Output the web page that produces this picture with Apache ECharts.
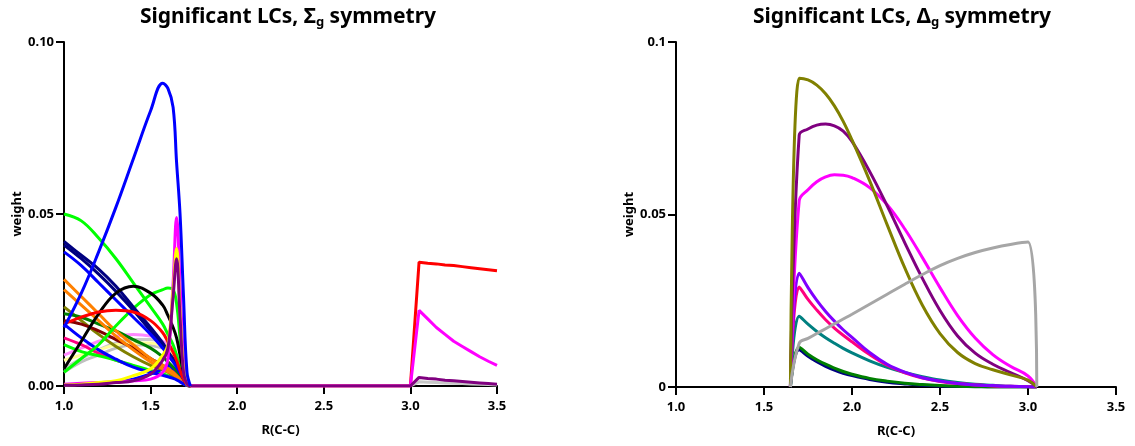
<!DOCTYPE html>
<html>
<head>
<meta charset="utf-8">
<title>Significant LCs</title>
<script src="https://cdn.jsdelivr.net/npm/echarts@6/dist/echarts.min.js"></script>
</head>
<body style="margin:0">
<div id="main" style="width:1135px;height:446px"></div>
<script>
// ---- left panel (Sigma_g) ----
var xsLeft = [1.0, 1.1, 1.2, 1.3, 1.4, 1.5, 1.57, 1.6, 1.63, 1.65, 1.67, 1.69, 1.71, 1.73];
var xsTail = [1.73, 3.0, 3.05, 3.1, 3.15, 3.2, 3.25, 3.3, 3.35, 3.4, 3.45, 3.5];

var blueBig    = [0.017, 0.027, 0.039, 0.052, 0.066, 0.080, 0.088, 0.0865, 0.081, 0.065, 0.050, 0.026, 0.004, 0];
var lime1      = [0.050, 0.048, 0.043, 0.037, 0.030, 0.023, 0.018, 0.015, 0.012, 0.009, 0.0055, 0.0025, 0.0005, 0];
var lime2      = [0.004, 0.008, 0.012, 0.0175, 0.0225, 0.0265, 0.028, 0.0285, 0.028, 0.024, 0.014, 0.004, 0.0003, 0];
var lime3      = [0.012, 0.010, 0.0088, 0.0075, 0.006, 0.0045, 0.0036, 0.003, 0.0025, 0.002, 0.0015, 0.001, 0.0003, 0];
var navy1      = [0.042, 0.038, 0.034, 0.029, 0.023, 0.017, 0.0125, 0.010, 0.008, 0.0065, 0.0045, 0.0025, 0.0008, 0];
var navy2      = [0.041, 0.037, 0.0325, 0.0275, 0.022, 0.016, 0.012, 0.0095, 0.0075, 0.006, 0.004, 0.002, 0.0005, 0];
var blue2      = [0.039, 0.035, 0.030, 0.025, 0.020, 0.015, 0.011, 0.009, 0.007, 0.0055, 0.0038, 0.002, 0.0005, 0];
var blue3      = [0.018, 0.014, 0.0105, 0.0078, 0.0055, 0.004, 0.0031, 0.0027, 0.0022, 0.0018, 0.0012, 0.0006, 0.0001, 0];
var blue4      = [0.0003, 0.0005, 0.0008, 0.0012, 0.002, 0.0035, 0.005, 0.006, 0.005, 0.004, 0.0025, 0.001, 0.0002, 0];
var orange1    = [0.031, 0.026, 0.021, 0.016, 0.012, 0.008, 0.006, 0.005, 0.004, 0.003, 0.002, 0.001, 0.0003, 0];
var orange2    = [0.028, 0.0235, 0.019, 0.0145, 0.0105, 0.007, 0.005, 0.0042, 0.0034, 0.0026, 0.0017, 0.0008, 0.0002, 0];
var olive      = [0.023, 0.019, 0.015, 0.0115, 0.0085, 0.006, 0.0047, 0.004, 0.003, 0.0025, 0.0015, 0.0008, 0.0002, 0];
var darkGreen  = [0.021, 0.020, 0.018, 0.016, 0.0135, 0.011, 0.0085, 0.007, 0.0055, 0.0045, 0.003, 0.0015, 0.0003, 0];
var maroon     = [0.019, 0.018, 0.016, 0.0135, 0.011, 0.008, 0.006, 0.005, 0.004, 0.003, 0.002, 0.001, 0.0002, 0];
var red        = [0.018, 0.020, 0.0215, 0.022, 0.0215, 0.019, 0.0155, 0.0128, 0.0098, 0.0075, 0.0045, 0.002, 0.0004, 0];
var black      = [0.005, 0.013, 0.021, 0.027, 0.029, 0.027, 0.0235, 0.0205, 0.017, 0.014, 0.009, 0.004, 0.0008, 0];
var magenta    = [0.0005, 0.0008, 0.001, 0.0012, 0.0015, 0.002, 0.004, 0.008, 0.030, 0.049, 0.030, 0.008, 0.001, 0];
var yellow     = [0.0003, 0.0005, 0.001, 0.0015, 0.003, 0.005, 0.009, 0.012, 0.028, 0.040, 0.022, 0.005, 0.0005, 0];
var purple     = [0.0002, 0.0003, 0.0005, 0.001, 0.0015, 0.0035, 0.0075, 0.011, 0.026, 0.037, 0.020, 0.004, 0.0005, 0];
var pink       = [0.009, 0.011, 0.013, 0.0145, 0.015, 0.0145, 0.013, 0.012, 0.0105, 0.009, 0.006, 0.003, 0.0006, 0];
var lightYel   = [0.0075, 0.009, 0.0105, 0.012, 0.0125, 0.0125, 0.0115, 0.0105, 0.009, 0.0075, 0.005, 0.0025, 0.0005, 0];
var silver1    = [0.005, 0.008, 0.0105, 0.0125, 0.0135, 0.0135, 0.0125, 0.0115, 0.010, 0.0085, 0.0055, 0.0025, 0.0005, 0];
var silver2    = [0.004, 0.007, 0.009, 0.011, 0.012, 0.0118, 0.011, 0.010, 0.0088, 0.0075, 0.005, 0.0022, 0.0004, 0];
var deepPink   = [0.014, 0.012, 0.0095, 0.0075, 0.0058, 0.0042, 0.0033, 0.0028, 0.0024, 0.002, 0.0015, 0.0008, 0.0002, 0];

var redTail     = [0, 0, 0.036, 0.0357, 0.0355, 0.0352, 0.035, 0.0347, 0.0344, 0.0341, 0.0338, 0.0335];
var magentaTail = [0, 0, 0.022, 0.0195, 0.017, 0.015, 0.013, 0.0115, 0.010, 0.0085, 0.0072, 0.006];
var purpleTail  = [0, 0, 0.0025, 0.0022, 0.002, 0.0017, 0.0015, 0.0013, 0.0011, 0.0009, 0.0007, 0.0005];
var silverTail  = [0, 0, 0.0012, 0.0011, 0.001, 0.0009, 0.0008, 0.0007, 0.0006, 0.0005, 0.0004, 0.0003];

// ---- right panel (Delta_g) ----
var xsRight = [1.65, 1.7, 1.75, 1.8, 1.85, 1.9, 1.95, 2.0, 2.1, 2.2, 2.3, 2.4, 2.5, 2.6, 2.7, 2.8, 2.9, 3.0, 3.05];

var rOlive    = [0, 0.0895, 0.0890, 0.0875, 0.0850, 0.0815, 0.0770, 0.0716, 0.0598, 0.0470, 0.0345, 0.0237, 0.0155, 0.0100, 0.0068, 0.0050, 0.0035, 0.0020, 0];
var rPurple   = [0, 0.0730, 0.0748, 0.0759, 0.0762, 0.0757, 0.0742, 0.0712, 0.0625, 0.0525, 0.0418, 0.0315, 0.0222, 0.0148, 0.0098, 0.0066, 0.0042, 0.0018, 0];
var rMagenta  = [0, 0.0540, 0.0572, 0.0595, 0.0609, 0.0615, 0.0614, 0.0607, 0.0578, 0.0528, 0.0458, 0.0375, 0.0288, 0.0207, 0.0142, 0.0094, 0.0060, 0.0032, 0];
var rGray     = [0, 0.0127, 0.0141, 0.0155, 0.0169, 0.0183, 0.0197, 0.0211, 0.0240, 0.0269, 0.0298, 0.0326, 0.0352, 0.0373, 0.0390, 0.0403, 0.0413, 0.0420, 0];
var rViolet   = [0, 0.0330, 0.0288, 0.0251, 0.0219, 0.0191, 0.0166, 0.0144, 0.0100, 0.0066, 0.0043, 0.0027, 0.0017, 0.0010, 0.0006, 0.0004, 0.0002, 0.0001, 0];
var rDeepPink = [0, 0.0290, 0.0254, 0.0223, 0.0195, 0.0171, 0.0150, 0.0131, 0.0094, 0.0063, 0.0041, 0.0026, 0.0016, 0.0010, 0.0006, 0.0003, 0.0002, 0.0001, 0];
var rTeal     = [0, 0.0205, 0.0182, 0.0161, 0.0143, 0.0127, 0.0112, 0.0099, 0.0076, 0.0057, 0.0042, 0.0030, 0.0020, 0.0013, 0.0008, 0.0005, 0.0002, 0.0001, 0];
var rGreen    = [0, 0.0115, 0.0095, 0.0079, 0.0066, 0.0055, 0.0045, 0.0037, 0.0025, 0.0017, 0.0011, 0.0007, 0.0004, 0.0002, 0.0001, 0, 0, 0, 0];
var rNavy     = [0, 0.0108, 0.0089, 0.0073, 0.0060, 0.0049, 0.0040, 0.0033, 0.0022, 0.0014, 0.0009, 0.0005, 0.0003, 0.0002, 0.0001, 0, 0, 0, 0];

var xTicks = ['1.0', '1.5', '2.0', '2.5', '3.0', '3.5'];

function pts(xs, ys) {
    return xs.map(function (x, i) { return [x, ys[i]]; });
}

function line(idx, color, data, smooth) {
    return {
        type: 'line', xAxisIndex: idx, yAxisIndex: idx, data: data,
        symbol: 'none', smooth: smooth, silent: true,
        lineStyle: { color: color, width: 3 }, itemStyle: { color: color }
    };
}

var leftList = [
    [silver2, '#c0c0c0', null], [silver1, '#c8c8c8', silverTail], [lightYel, '#ffff99', null],
    [pink, '#ff88ff', null], [deepPink, '#ff0080', null], [lime3, '#00ff00', null],
    [blue4, '#0000ff', null], [olive, '#808000', null], [darkGreen, '#008000', null],
    [maroon, '#800000', null], [orange2, '#ff8000', null], [orange1, '#ff8000', null],
    [blue3, '#0000ff', null], [lime2, '#00ff00', null], [lime1, '#00ff00', null],
    [navy2, '#000080', null], [navy1, '#000080', null], [blue2, '#0000ff', null],
    [black, '#000000', null], [red, '#ff0000', redTail], [magenta, '#ff00ff', magentaTail],
    [yellow, '#ffff00', null], [purple, '#800080', purpleTail], [blueBig, '#0000ff', null]
];
var rightList = [
    [rNavy, '#000080'], [rGreen, '#008000'], [rTeal, '#008080'], [rDeepPink, '#ff0080'],
    [rViolet, '#8000ff'], [rMagenta, '#ff00ff'], [rPurple, '#800080'], [rOlive, '#808000'],
    [rGray, '#a6a6a6']
];

var series = [];
leftList.forEach(function (s) {
    series.push(line(0, s[1], pts(xsLeft, s[0]), 0.4));
    // the far segment (R >= 3.0) is drawn as straight pieces
    if (s[2]) series.push(line(0, s[1], pts(xsTail, s[2]), false));
});
rightList.forEach(function (s) {
    series.push(line(1, s[1], pts(xsRight, s[0]), 0.4));
});

var font = 'Noto Sans';
var axisLine = { lineStyle: { color: '#000', width: 2 } };
var axisTick = { length: 8, lineStyle: { color: '#000', width: 2 } };
var lbl = { color: '#000', fontWeight: 'bold', fontSize: 13, fontFamily: font };
var nameStyle = { color: '#000', fontWeight: 'bold', fontSize: 13, fontFamily: font };

function xAxis(idx) {
    return {
        type: 'value', gridIndex: idx, min: 1, max: 3.5, interval: 0.5,
        name: 'R(C-C)', nameLocation: 'middle', nameGap: 38, nameTextStyle: nameStyle,
        axisLine: axisLine, axisTick: axisTick, splitLine: { show: false },
        axisLabel: Object.assign({ margin: 14, formatter: function (v) { return xTicks[Math.round((v - 1) / 0.5)]; } }, lbl)
    };
}
function yAxis(idx, fmt) {
    return {
        type: 'value', gridIndex: idx, min: 0, max: 0.1, interval: 0.05,
        name: 'weight', nameLocation: 'middle', nameGap: 17, nameTextStyle: nameStyle,
        axisLine: axisLine, axisTick: axisTick, splitLine: { show: false },
        axisLabel: Object.assign({ margin: 10, formatter: fmt }, lbl)
    };
}

function title(txt, sym, cx) {
    return {
        text: '{a|' + txt + sym + '}{b|g}{a| symmetry}', left: cx, top: 0, textAlign: 'center',
        textStyle: {
            rich: {
                a: { fontSize: 21, fontWeight: 'bold', fontFamily: font, color: '#000' },
                b: { fontSize: 13, fontWeight: 'bold', fontFamily: font, color: '#000', padding: [11, 0, 0, 0] }
            }
        }
    };
}

var myChart = echarts.init(document.getElementById('main'));
var option = {
    animation: false,
    backgroundColor: '#fff',
    title: [title('Significant LCs, ', 'Σ', 283), title('Significant LCs, ', 'Δ', 897)],
    grid: [
        { left: 64, right: 638, top: 42, bottom: 60 },
        { left: 676, right: 19, top: 42, bottom: 59 }
    ],
    xAxis: [xAxis(0), xAxis(1)],
    yAxis: [
        yAxis(0, function (v) { return v.toFixed(2); }),
        yAxis(1, function (v) { return v === 0 ? '0' : String(+v.toFixed(2)); })
    ],
    series: series
};
myChart.setOption(option);
</script>
</body>
</html>
